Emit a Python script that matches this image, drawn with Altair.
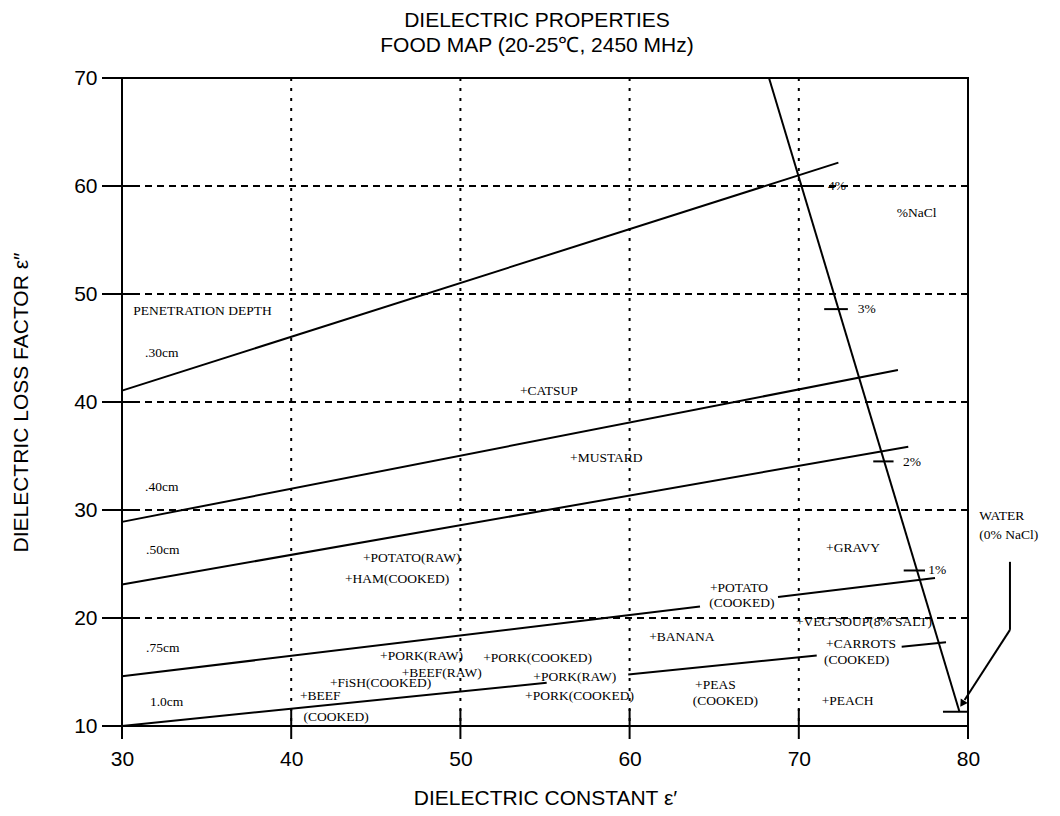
import altair as alt
import pandas as pd

W, H = 846, 648

# axis ticks
x_ticks = [30, 40, 50, 60, 70, 80]
y_ticks = [10, 20, 30, 40, 50, 60, 70]
x_grid = [40, 50, 60, 70]
y_grid = [20, 30, 40, 50, 60]

# penetration depth lines (segments, broken where labels sit on them)
depth_seg = [".30cm", ".40cm", ".50cm", ".75cm", ".75cm", "1.0cm", "1.0cm", "1.0cm"]
depth_x1 = [30, 30, 30, 30, 68.77, 30, 59.92, 76.08]
depth_y1 = [41.05, 28.9, 23.1, 14.6, 21.94, 10.0, 14.77, 17.33]
depth_x2 = [72.34, 75.86, 76.47, 64.16, 78.05, 55.1, 71.06, 78.7]
depth_y2 = [62.16, 42.96, 35.86, 21.07, 23.7, 14.0, 16.53, 17.75]

# %NaCl line and its ticks
nacl_x1 = [68.24]
nacl_y1 = [70.0]
nacl_x2 = [79.5]
nacl_y2 = [11.3]
nacl_tick_y = [60.0, 48.6, 34.5, 24.4, 11.32]
nacl_tick_x1 = [69.9, 71.5, 74.4, 76.2, 78.52]
nacl_tick_x2 = [71.1, 72.9, 75.6, 77.46, 79.94]

# arrow from WATER label
arrow_x1 = [82.48, 82.48]
arrow_y1 = [25.2, 18.9]
arrow_x2 = [82.48, 79.8]
arrow_y2 = [18.9, 12.4]
arrow_head_x = [79.7]
arrow_head_y = [12.15]

# text labels
labels = [
    "PENETRATION DEPTH", ".30cm", ".40cm", ".50cm", ".75cm", "1.0cm",
    "+CATSUP", "+MUSTARD", "+POTATO(RAW)", "+HAM(COOKED)",
    "+PORK(RAW)", "+PORK(COOKED)", "+BEEF(RAW)", "+FiSH(COOKED)",
    "+BEEF", "(COOKED)", "+PORK(RAW)", "+PORK(COOKED)",
    "+BANANA", "+PEAS", "(COOKED)", "+POTATO", "(COOKED)",
    "+GRAVY", "+VEG SOUP(8% SALT)", "+CARROTS", "(COOKED)", "+PEACH",
    "WATER", "(0% NaCl)", "%NaCl", "4%", "3%", "2%", "1%",
]
label_x = [
    30.67, 31.36, 31.36, 31.42, 31.42, 31.65,
    53.52, 56.48, 44.24, 43.18,
    45.25, 51.35, 46.53, 42.29,
    40.52, 40.72, 54.31, 53.82,
    61.16, 63.87, 63.73, 64.75, 64.71,
    71.61, 69.83, 71.61, 71.49, 71.35,
    80.67, 80.67, 75.79, 71.73, 73.48, 76.16, 77.65,
]
label_y = [
    48.45, 44.51, 32.1, 26.3, 17.22, 12.25,
    41.05, 34.79, 25.53, 23.58,
    16.51, 16.27, 14.95, 14.01,
    12.81, 10.86, 14.51, 12.81,
    18.21, 13.8, 12.31, 22.81, 21.36,
    26.45, 19.66, 17.56, 16.11, 12.31,
    29.44, 27.69, 57.53, 60.0, 48.6, 34.4, 24.4,
]

xs = alt.Scale(domain=[30, 80], nice=False, zero=False)
ys = alt.Scale(domain=[10, 70], nice=False, zero=False)
SANS = "Liberation Sans"
SERIF = "Liberation Serif"

x_axis = alt.Axis(
    values=x_ticks, domain=False, ticks=False, grid=False, labelFlush=False,
    labelFont=SANS, labelFontSize=21, labelColor="black", labelPadding=22,
    title="DIELECTRIC CONSTANT ε′", titleFont=SANS, titleFontSize=21,
    titleFontWeight="normal", titleColor="black", titleBaseline="middle",
    titleY=72,
)
y_axis = alt.Axis(
    values=y_ticks, domain=False, ticks=False, grid=False, labelFlush=False,
    labelFont=SANS, labelFontSize=21, labelColor="black", labelPadding=25,
    title="DIELECTRIC LOSS FACTOR ε″", titleFont=SANS, titleFontSize=21,
    titleFontWeight="normal", titleColor="black", titleBaseline="middle",
    titleX=-101, titleY=H / 2,
)


def X(field):
    return alt.X(field, scale=xs, axis=x_axis)


def Y(field):
    return alt.Y(field, scale=ys, axis=y_axis)


vgrid = alt.Chart(pd.DataFrame({"v": x_grid})).mark_rule(
    color="black", strokeWidth=2, strokeDash=[3, 7]
).encode(x=X("v:Q"))

hgrid = alt.Chart(pd.DataFrame({"v": y_grid})).mark_rule(
    color="black", strokeWidth=1.8, strokeDash=[7, 5]
).encode(y=Y("v:Q"))

xtick = alt.Chart(pd.DataFrame({"v": x_ticks})).mark_rule(
    color="black", strokeWidth=2
).encode(
    x=X("v:Q"),
    y=alt.value(H - 17), y2=alt.value(H + 13),
)

ytick = alt.Chart(pd.DataFrame({"v": y_ticks})).mark_rule(
    color="black", strokeWidth=2
).encode(
    y=Y("v:Q"),
    x=alt.value(-20), x2=alt.value(15),
)


def seg_layer(x1, y1, x2, y2, width=2):
    df = pd.DataFrame({"x1": x1, "y1": y1, "x2": x2, "y2": y2})
    return alt.Chart(df).mark_rule(color="black", strokeWidth=width).encode(
        x=X("x1:Q"), y=Y("y1:Q"), x2="x2:Q", y2="y2:Q",
    )


depth = seg_layer(depth_x1, depth_y1, depth_x2, depth_y2)
nacl = seg_layer(nacl_x1, nacl_y1, nacl_x2, nacl_y2)
nacl_ticks = seg_layer(nacl_tick_x1, nacl_tick_y, nacl_tick_x2, nacl_tick_y)
arrow = seg_layer(arrow_x1, arrow_y1, arrow_x2, arrow_y2)

head = alt.Chart(pd.DataFrame({"x": arrow_head_x, "y": arrow_head_y})).mark_point(
    shape="triangle", filled=True, color="black", size=70, angle=213, opacity=1
).encode(x=X("x:Q"), y=Y("y:Q"))

text = alt.Chart(pd.DataFrame({"t": labels, "x": label_x, "y": label_y})).mark_text(
    align="left", baseline="middle", font=SERIF, fontSize=13.5, color="black"
).encode(x=X("x:Q"), y=Y("y:Q"), text="t:N")

chart = alt.layer(
    vgrid, hgrid, xtick, ytick, depth, nacl, nacl_ticks, arrow, head, text
).properties(
    width=W, height=H,
    autosize="none",
    padding={"left": 114, "top": 70, "right": 84, "bottom": 82},
    title=alt.TitleParams(
        text=["DIELECTRIC PROPERTIES", "FOOD MAP (20-25℃, 2450 MHz)"],
        font=SANS, fontSize=21, fontWeight="normal", color="black",
        anchor="middle", lineHeight=25, offset=23, dy=12, dx=-8,
    ),
).configure_view(stroke="black", strokeWidth=2)

chart.save("out.html", embed_options={"renderer": "svg", "actions": False})
